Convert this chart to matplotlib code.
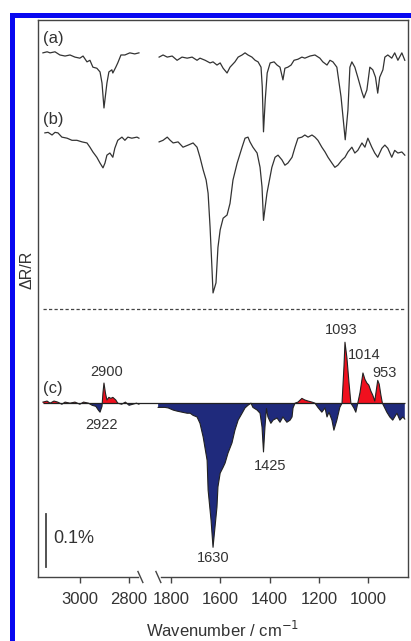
import numpy as np
import matplotlib.pyplot as plt
from matplotlib.lines import Line2D

plt.rcParams['font.family'] = ['Liberation Sans', 'DejaVu Sans']

# ---- data (wavenumber in cm-1, dR/R in units of 0.01 %) ----
wn_a = [3150, 3133, 3121, 3101, 3081, 3060, 3040, 3020, 3000, 2987,
        2971, 2959, 2947, 2931, 2918, 2910, 2902, 2890, 2882, 2870,
        2866, 2854, 2846, 2833, 2817, 2797, 2777, 2760,
        1849, 1833, 1816, 1796, 1776, 1756, 1735, 1715, 1695, 1683,
        1662, 1642, 1630, 1614, 1601, 1589, 1573, 1561, 1541, 1528,
        1512, 1500, 1488, 1472, 1459, 1447, 1435, 1430, 1425, 1418,
        1410, 1398, 1382, 1370, 1358, 1346, 1338, 1326, 1313, 1301,
        1285, 1269, 1257, 1236, 1216, 1196, 1184, 1167, 1155, 1143,
        1127, 1110, 1093, 1082, 1074, 1066, 1054, 1042, 1025, 1017,
        1005, 993, 981, 970, 961, 953, 940, 932, 920, 904,
        892, 879, 863, 851]
dr_a = [0.6, 0.8, 0.6, 0.8, 0.2, 0.0, 0.2, -0.2, -0.4, 0.0,
        -1.1, -0.8, -2.1, -2.3, -3.0, -5.1, -9.8, -5.1, -3.0, -2.6,
        -3.2, -2.1, -1.3, 0.2, 0.2, 0.6, 0.4, 0.6,
        -0.2, 0.2, -0.2, 0.0, -0.8, -0.2, -0.4, -0.2, -0.8, -0.4,
        -0.8, -1.3, -1.1, -1.7, -1.3, -2.3, -3.2, -2.1, -1.1, -0.2,
        0.2, 0.6, 0.2, -0.2, -0.8, -1.1, -2.1, -5.8, -14.3, -8.3,
        -3.2, -1.3, -1.1, -1.7, -2.1, -4.5, -2.3, -2.1, -1.7, -0.8,
        -0.6, -0.2, -0.4, 0.0, 0.2, -0.4, -1.1, -1.7, -0.8, -1.1,
        -2.1, -7.7, -15.8, -10.2, -2.1, -1.1, -2.1, -4.0, -6.8, -7.9,
        -6.4, -2.1, -2.6, -4.0, -7.0, -4.0, -2.6, -0.2, 0.2, -0.4,
        0.6, -0.8, 0.6, -0.8]

wn_b = [3142, 3129, 3113, 3101, 3089, 3073, 3052, 3032, 3012, 2991,
        2971, 2959, 2947, 2931, 2918, 2906, 2898, 2890, 2878, 2866,
        2858, 2846, 2829, 2817, 2805, 2789, 2768, 2760,
        1849, 1833, 1816, 1804, 1792, 1772, 1752, 1731, 1711, 1695,
        1683, 1670, 1658, 1650, 1642, 1634, 1630, 1618, 1610, 1601,
        1589, 1573, 1561, 1549, 1532, 1512, 1500, 1488, 1480, 1468,
        1451, 1439, 1431, 1425, 1411, 1391, 1378, 1366, 1350, 1338,
        1326, 1309, 1297, 1285, 1269, 1257, 1244, 1228, 1216, 1204,
        1188, 1175, 1163, 1147, 1135, 1123, 1106, 1094, 1082, 1066,
        1054, 1042, 1025, 1013, 1001, 985, 973, 961, 944, 932,
        920, 904, 892, 879, 863, 851]
dr_b = [0.8, 0.9, 0.4, 0.9, 0.8, 0.0, -0.2, -0.6, -0.6, -0.9,
        -1.1, -1.9, -2.8, -3.8, -4.9, -5.8, -4.9, -3.4, -3.0, -3.8,
        -2.1, -0.6, 0.0, -0.6, 0.0, -0.2, 0.0, -0.2,
        -0.9, -0.6, 0.0, -0.6, -1.1, -0.9, -1.9, -1.5, -1.1, -1.9,
        -3.8, -6.2, -8.1, -10.6, -17.0, -25.1, -29.4, -27.5, -20.8, -17.5,
        -15.3, -14.7, -12.5, -8.1, -4.9, -1.9, -0.2, 0.0, -0.9, -1.9,
        -3.0, -5.7, -9.4, -15.7, -10.6, -5.7, -3.8, -3.4, -4.3, -5.3,
        -4.9, -3.8, -1.9, -0.2, 0.0, 0.4, 0.0, 0.4, 0.0, -0.6,
        -1.9, -2.8, -3.8, -4.9, -5.7, -5.3, -4.3, -3.8, -2.8, -1.9,
        -3.0, -2.5, -1.1, -1.9, -0.2, -1.9, -3.0, -3.8, -2.1, -1.5,
        -2.1, -3.8, -2.5, -3.0, -2.8, -3.4]

# difference spectrum (c)
wn_c = [3150, 3133, 3121, 3105, 3090, 3073, 3060, 3040, 3020, 3000,
        2985, 2965, 2950, 2935, 2925, 2918, 2910, 2906, 2902, 2896,
        2890, 2882, 2874, 2866, 2854, 2846, 2830, 2815, 2800, 2785,
        2770, 2760,
        1853, 1825, 1812, 1792, 1776, 1756, 1735, 1723, 1711, 1695,
        1683, 1670, 1654, 1650, 1638, 1630, 1622, 1614, 1610, 1601,
        1589, 1581, 1569, 1553, 1541, 1528, 1512, 1500, 1488, 1476,
        1468, 1451, 1439, 1431, 1425, 1419, 1413, 1407, 1395, 1386,
        1370, 1358, 1346, 1330, 1317, 1309, 1305, 1297, 1285, 1269,
        1257, 1244, 1228, 1216, 1204, 1188, 1175, 1167, 1159, 1147,
        1139, 1127, 1115, 1106, 1098, 1094, 1086, 1078, 1070, 1058,
        1050, 1042, 1033, 1021, 1013, 1005, 997, 989, 981, 973,
        961, 955, 948, 942, 924, 912, 900, 883, 871, 859,
        851]
dr_c = [0.2, 0.4, 0.0, 0.4, 0.2, -0.2, 0.2, 0.0, 0.2, -0.2,
        0.2, 0.0, -0.4, -0.6, -1.3, -1.7, -0.6, 2.0, 3.8, 1.9,
        0.6, 1.1, 0.9, 1.1, 0.6, 0.0, -0.2, 0.2, -0.4, -0.2,
        0.0, -0.2,
        -0.8, -0.8, -0.9, -1.3, -1.5, -1.7, -1.9, -1.9, -2.3, -2.6,
        -3.8, -6.4, -10.8, -16.4, -22.1, -27.2, -23.4, -19.6, -15.8, -13.2,
        -12.1, -11.3, -9.4, -7.5, -5.1, -3.2, -1.9, -0.9, -0.4, 0.0,
        -0.8, -1.3, -1.9, -4.5, -9.2, -4.5, -1.0, -2.6, -3.8, -3.2,
        -2.8, -3.6, -2.6, -3.6, -3.2, -2.6, -0.9, 0.0, 0.2, 0.9,
        0.6, 0.4, 0.2, 0.0, -0.8, -1.7, -0.9, -2.6, -1.7, -3.2,
        -5.1, -3.2, -0.8, 0.0, 7.0, 11.5, 8.5, 4.0, 0.0, -0.9,
        -1.7, 0.0, 2.0, 5.7, 4.5, 3.8, 3.4, 2.3, 1.5, 0.4,
        4.3, 3.6, 1.5, 0.0, -1.7, -2.6, -3.2, -1.9, -3.2, -2.6,
        -3.0]

tick_wn = [3000, 2800, 1800, 1600, 1400, 1200, 1000]
peak_labels = [('2900', 2890, 38.7), ('2922', 2914, 28.7), ('1093', 1108, 46.6),
               ('1014', 1014, 41.9), ('953', 933, 38.5), ('1425', 1400, 20.9),
               ('1630', 1631, 3.6)]

# vertical offsets of the traces
base_a, base_b, base_c = 98.3, 83.0, 32.8

# broken x axis: 3170-2755 | gap | 1853-838
L0, L1, GAP, R0, R1 = 3170, 2755, 73, 1853, 838


def to_u(w):
    w = np.asarray(w, dtype=float)
    return np.where(w > 2300, L0 - w, (L0 - L1) + GAP + R0 - w)


def segments(wn, dr):
    wn = np.asarray(wn, float)
    dr = np.asarray(dr, float)
    for m in (wn > 2300, wn < 2300):
        yield to_u(wn[m]), dr[m]


fig = plt.figure(figsize=(4.11, 6.41), dpi=100)
ax = fig.add_axes([38 / 411, 1 - 577 / 641, 370 / 411, 557 / 641])
xmax = float(to_u(R1))
ax.set_xlim(0, xmax)
ax.set_ylim(0, 105.1)

line_kw = dict(color='#333333', lw=0.9)
for u, d in segments(wn_a, dr_a):
    ax.plot(u, base_a + d, **line_kw)
for u, d in segments(wn_b, dr_b):
    ax.plot(u, base_b + d, **line_kw)

ax.hlines(base_c, float(to_u(3150)), float(to_u(851)), color='#222222', lw=0.9, zorder=3)
for u, d in segments(wn_c, dr_c):
    ax.fill_between(u, base_c, base_c + d, where=d >= 0, interpolate=True,
                    color='#f0101e', lw=0)
    ax.fill_between(u, base_c, base_c + d, where=d <= 0, interpolate=True,
                    color='#1f2a7c', lw=0)
    ax.plot(u, base_c + d, color='#222222', lw=0.8)

ax.hlines(50.6, float(to_u(3150)), float(to_u(851)), color='#444444', lw=0.9,
          linestyles=(0, (2.6, 1.8)))

# scale bar, 0.1 %
ax.plot([31, 31], [1.9, 11.9], color='#444444', lw=1.3)
ax.text(61, 7.2, '0.1%', fontsize=13, va='center', ha='left', color='#333333')

ax.text(20, 101.7, '(a)', fontsize=12, va='center', color='#333333')
ax.text(20, 86.4, '(b)', fontsize=12, va='center', color='#333333')
ax.text(20, 35.5, '(c)', fontsize=12, va='center', color='#333333')
for txt, w, y in peak_labels:
    ax.text(float(to_u(w)), y, txt, fontsize=10.5, ha='center', va='center', color='#333333')

# frame
for s in ('left', 'top', 'right'):
    ax.spines[s].set_color('#444444')
    ax.spines[s].set_linewidth(1.0)
ax.spines['bottom'].set_visible(False)
tr = ax.get_xaxis_transform()
ax.plot([0, 406], [0, 0], transform=tr, color='#444444', lw=1.0, clip_on=False)
ax.plot([499, xmax], [0, 0], transform=tr, color='#444444', lw=1.0, clip_on=False)
dy = 5.5 / 557
for a, b in ((406, 426), (479, 499)):
    ax.plot([a, b], [dy, -dy], transform=tr, color='#444444', lw=1.0, clip_on=False)

ax.set_yticks([])
ax.set_xticks(to_u(tick_wn))
ax.set_xticklabels([str(t) for t in tick_wn])
ax.tick_params(axis='x', direction='out', length=4.5, width=1.0, pad=6,
               labelsize=12, color='#444444', labelcolor='#333333')
ax.set_xlabel('Wavenumber / cm$^{-1}$', fontsize=12, color='#333333')
ax.xaxis.set_label_coords(0.5, -0.077)
ax.text(-0.0297, 0.551, 'ΔR/R', transform=ax.transAxes, rotation=90,
        fontsize=11.5, ha='center', va='center', color='#333333')

# blue border of the panel
fig.add_artist(Line2D([11.5 / 411, 11.5 / 411], [0, 1 - 15 / 641], transform=fig.transFigure,
                      color='#0808f0', lw=3.6, solid_capstyle='projecting'))
fig.add_artist(Line2D([11.5 / 411, 1], [1 - 15 / 641, 1 - 15 / 641], transform=fig.transFigure,
                      color='#0808f0', lw=3.6, solid_capstyle='projecting'))

fig.savefig('out.png', dpi=100)
